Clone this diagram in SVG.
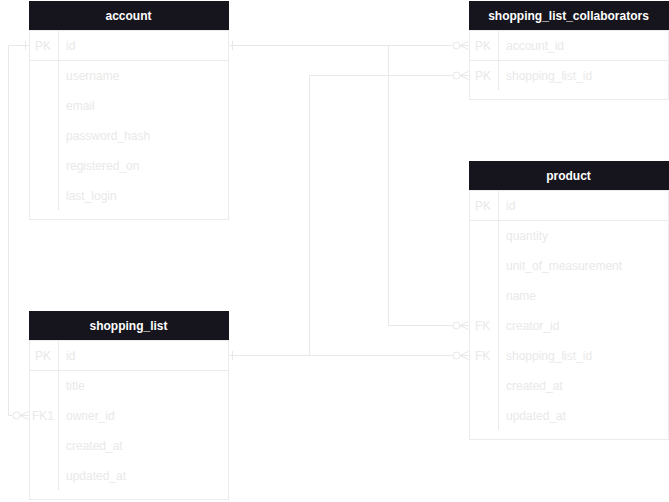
<svg xmlns="http://www.w3.org/2000/svg" width="669" height="502" viewBox="0 0 669 502">
<style>
.hdr{fill:#16141c}
.box{fill:#ffffff;stroke:#ebebeb;stroke-width:1}
.ln{stroke:#ebebeb;stroke-width:1;fill:none}
.ht{font-family:"Liberation Sans",Arial,sans-serif;font-size:12px;font-weight:bold;fill:#ffffff;text-anchor:middle}
.t{font-family:"Liberation Sans",Arial,sans-serif;font-size:12px;fill:#e9e9e9}
.c{stroke:#e8e8e8;stroke-width:1;fill:none}
.cc{stroke:#e8e8e8;stroke-width:1;fill:#ffffff}
</style>
<defs>
<g id="crow">
<circle class="cc" cx="-12" cy="0" r="3.5"/>
<path class="c" d="M-8.5,0 H0 M-8.5,0 L0,-4 M-8.5,0 L0,4"/>
</g>
</defs>
<g id="connectors">
<path class="c" d="M229.5,45.5 H452"/>
<path class="c" d="M388.5,45.5 V325.5 H457"/>
<path class="c" d="M229.5,355.5 H457"/>
<path class="c" d="M309.5,355.5 V75.5 H457"/>
<path class="c" d="M29,45.5 H8.5 V415.5 H12"/>
<path class="c" d="M232.5,41 V50"/>
<path class="c" d="M232.5,351 V360"/>
<path class="c" d="M25.5,41 V50"/>
<use href="#crow" x="468.5" y="45.5"/>
<use href="#crow" x="468.5" y="75.5"/>
<use href="#crow" x="468.5" y="325.5"/>
<use href="#crow" x="468.5" y="355.5"/>
<use href="#crow" x="28.5" y="415.5"/>
</g>
<g id="account">
<rect class="box" x="29.5" y="30.5" width="199" height="189"/>
<rect class="hdr" x="29" y="1" width="200" height="29"/>
<text class="ht" x="128.5" y="20">account</text>
<path class="ln" d="M29.5,60.5 H228.5 M58.5,30.5 V210"/>
<text class="t" x="35" y="49.5">PK</text>
<text class="t" x="66" y="49.5">id</text>
<text class="t" x="66" y="79.5">username</text>
<text class="t" x="66" y="109.5">email</text>
<text class="t" x="66" y="139.5">password_hash</text>
<text class="t" x="66" y="169.5">registered_on</text>
<text class="t" x="66" y="199.5">last_login</text>
</g>
<g id="shopping_list_collaborators">
<rect class="box" x="469.5" y="30.5" width="199" height="69"/>
<rect class="hdr" x="469" y="1" width="200" height="29"/>
<text class="ht" x="568.5" y="20">shopping_list_collaborators</text>
<path class="ln" d="M469.5,60.5 H668.5 M498.5,30.5 V90"/>
<text class="t" x="475" y="49.5">PK</text>
<text class="t" x="506" y="49.5">account_id</text>
<text class="t" x="475" y="79.5">PK</text>
<text class="t" x="506" y="79.5">shopping_list_id</text>
</g>
<g id="product">
<rect class="box" x="469.5" y="190.5" width="199" height="249"/>
<rect class="hdr" x="469" y="161" width="200" height="29"/>
<text class="ht" x="568.5" y="180">product</text>
<path class="ln" d="M469.5,220.5 H668.5 M498.5,190.5 V430"/>
<text class="t" x="475" y="209.5">PK</text>
<text class="t" x="506" y="209.5">id</text>
<text class="t" x="506" y="239.5">quantity</text>
<text class="t" x="506" y="269.5">unit_of_measurement</text>
<text class="t" x="506" y="299.5">name</text>
<text class="t" x="475" y="329.5">FK</text>
<text class="t" x="506" y="329.5">creator_id</text>
<text class="t" x="475" y="359.5">FK</text>
<text class="t" x="506" y="359.5">shopping_list_id</text>
<text class="t" x="506" y="389.5">created_at</text>
<text class="t" x="506" y="419.5">updated_at</text>
</g>
<g id="shopping_list">
<rect class="box" x="29.5" y="340.5" width="199" height="159"/>
<rect class="hdr" x="29" y="311" width="200" height="29"/>
<text class="ht" x="128.5" y="330">shopping_list</text>
<path class="ln" d="M29.5,370.5 H228.5 M58.5,340.5 V490"/>
<text class="t" x="35" y="359.5">PK</text>
<text class="t" x="66" y="359.5">id</text>
<text class="t" x="66" y="389.5">title</text>
<text class="t" x="32" y="419.5">FK1</text>
<text class="t" x="66" y="419.5">owner_id</text>
<text class="t" x="66" y="449.5">created_at</text>
<text class="t" x="66" y="479.5">updated_at</text>
</g>
</svg>
